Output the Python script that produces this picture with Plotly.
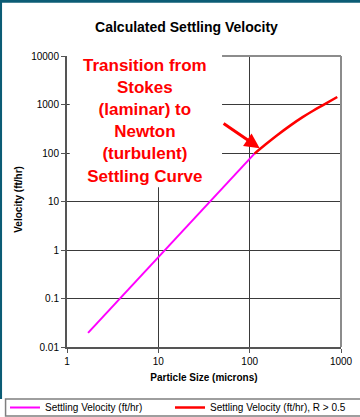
import plotly.graph_objects as go

# Stokes-regime settling velocity (ft/hr) vs particle size (microns)
stokes_size = [1.7, 2, 3, 4, 5, 7, 10, 15, 20, 30, 40, 50, 70, 100, 113]
stokes_vel = [0.0196, 0.0272, 0.062, 0.111, 0.175, 0.346, 0.715, 1.63, 2.92,
              6.65, 11.9, 18.7, 37.1, 76.6, 97]

# Transition / Newton-regime curve (R > 0.5)
trans_size = [113, 150, 200, 280, 380, 500, 650, 910]
trans_vel = [97, 151, 232, 371, 548, 752, 995, 1430]

y_ticks = [0.01, 0.1, 1, 10, 100, 1000, 10000]
y_tick_text = ["0.01", "0.1", "1", "10", "100", "1000", "10000"]
x_ticks = [1, 10, 100, 1000]
x_tick_text = ["1", "10", "100", "1000"]

FONT = "Liberation Sans, Arial, sans-serif"

fig = go.Figure()
fig.add_trace(go.Scatter(
    x=stokes_size, y=stokes_vel, mode="lines",
    name="Settling Velocity (ft/hr)",
    line=dict(color="#ff00ff", width=2),
    legend="legend",
))
fig.add_trace(go.Scatter(
    x=trans_size, y=trans_vel, mode="lines",
    name="Settling Velocity (ft/hr), R > 0.5",
    line=dict(color="#ff0000", width=2.5, shape="spline"),
    legend="legend2",
))

# pixel -> paper helpers for the fixed 360x417 canvas
W, H = 360, 417
L, R, T, B = 67.3, 340.7, 55.7, 347.0
def px(x):
    return (x - L) / (R - L)
def py(y):
    return (B - y) / (B - T)

shapes = [
    # white panel behind the callout text
    dict(type="rect", xref="paper", yref="paper", x0=px(70), x1=px(222),
         y0=py(187), y1=py(53), fillcolor="white", line=dict(width=0), layer="above"),
    # right plot border
    dict(type="line", xref="paper", yref="paper", x0=1, x1=1, y0=0, y1=1,
         line=dict(color="#8c8c8c", width=2), layer="above"),
    # top plot border (right of the callout panel)
    dict(type="line", xref="paper", yref="paper", x0=px(222), x1=1, y0=1, y1=1,
         line=dict(color="#8c8c8c", width=2), layer="above"),
    # legend frame
    dict(type="rect", xref="paper", yref="paper", x0=px(6), x1=px(364),
         y0=py(416), y1=py(399), line=dict(color="#7f7f7f", width=1.5),
         fillcolor="rgba(0,0,0,0)"),
    # outer slide frame
    dict(type="line", xref="paper", yref="paper", x0=px(0), x1=px(362),
         y0=py(1), y1=py(1), line=dict(color="#0b5c75", width=3)),
    dict(type="line", xref="paper", yref="paper", x0=px(1), x1=px(1),
         y0=py(0), y1=py(399), line=dict(color="#0b5c75", width=3)),
]

annotations = [
    dict(xref="paper", yref="paper", x=px(145), y=py(121),
         text="Transition from<br>Stokes<br>(laminar) to<br>Newton<br>(turbulent)<br>Settling Curve",
         showarrow=False, align="center", xanchor="center", yanchor="middle",
         font=dict(family=FONT, size=17, color="#ff0000", weight="bold")),
    dict(xref="x", yref="y", x=2.11, y=2.1, ax=-37.6, ay=-25.6,
         text="", showarrow=True, arrowhead=2, arrowsize=1, arrowwidth=3,
         arrowcolor="#ff0000"),
    dict(xref="paper", yref="paper", x=px(19), y=py(199),
         text="Velocity (ft/hr)", textangle=-90, showarrow=False,
         xanchor="center", yanchor="middle",
         font=dict(family=FONT, size=10, color="#000000", weight="bold")),
]

legend_common = dict(orientation="h", xref="container", yref="container",
                     xanchor="left", y=1 - 407.5 / H, yanchor="middle",
                     bgcolor="rgba(0,0,0,0)", borderwidth=0,
                     font=dict(size=10), itemclick=False)

fig.update_layout(
    width=W, height=H,
    margin=dict(l=L, r=W - R, t=T, b=H - B),
    paper_bgcolor="white", plot_bgcolor="white",
    font=dict(family=FONT, size=10, color="#000000"),
    title=dict(text="Calculated Settling Velocity", x=0.518, xanchor="center",
               y=1 - 27 / H, yanchor="middle", yref="container",
               font=dict(family=FONT, size=14, color="#000000", weight="bold")),
    xaxis=dict(type="log", range=[0, 3], tickvals=x_ticks, ticktext=x_tick_text,
               showgrid=True, gridcolor="#3a3a3a", gridwidth=1,
               showline=True, linecolor="#555555", linewidth=2,
               ticks="outside", ticklen=4, tickcolor="#555555",
               tickfont=dict(size=10), zeroline=False, automargin=False,
               title=dict(text="Particle Size (microns)", standoff=8,
                          font=dict(family=FONT, size=10, weight="bold"))),
    yaxis=dict(type="log", range=[-2, 4], tickvals=y_ticks, ticktext=y_tick_text,
               showgrid=True, gridcolor="#3a3a3a", gridwidth=1,
               showline=True, linecolor="#555555", linewidth=2,
               ticks="outside", ticklen=4, tickcolor="#555555",
               tickfont=dict(size=10), zeroline=False, automargin=False),
    showlegend=True,
    legend=dict(x=5 / W, **legend_common),
    legend2=dict(x=170 / W, **legend_common),
    shapes=shapes,
    annotations=annotations,
)

fig.write_html("out.html")
